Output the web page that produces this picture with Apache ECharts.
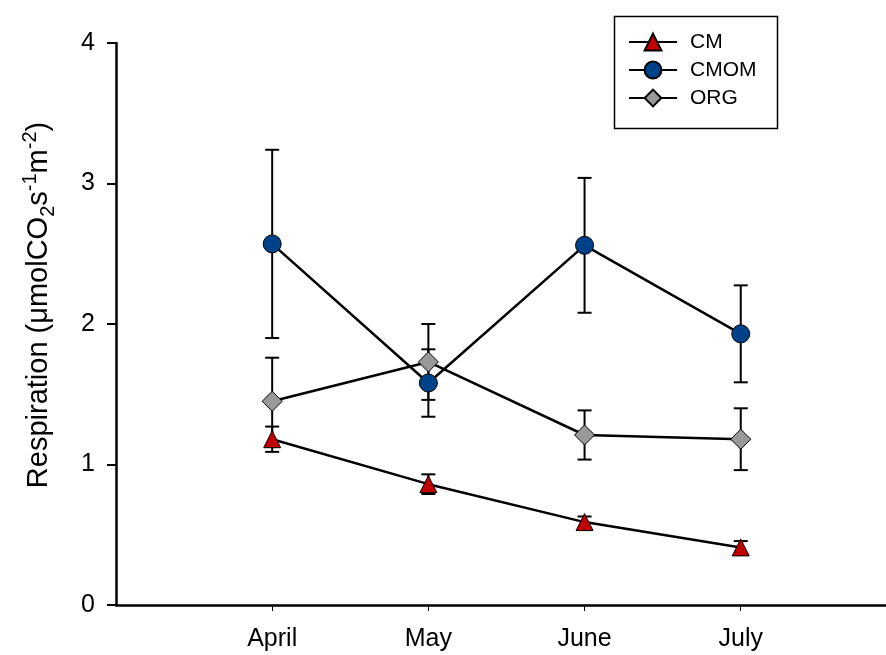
<!DOCTYPE html>
<html><head><meta charset="utf-8">
<script src="https://cdn.jsdelivr.net/npm/echarts@6/dist/echarts.min.js"></script>
<style>html,body{margin:0;padding:0;background:#fff}#c{width:886px;height:655px}</style>
</head><body><div id="c"></div>
<script>
const months = ['April', 'May', 'June', 'July'];
const yTicks = [0, 1, 2, 3, 4];
const cmMean = [1.18, 0.86, 0.59, 0.41];
const cmErr = [0.09, 0.07, 0.04, 0.045];
const cmomMean = [2.57, 1.58, 2.56, 1.93];
const cmomErr = [0.67, 0.24, 0.48, 0.345];
const orgMean = [1.45, 1.73, 1.21, 1.18];
const orgErr = [0.31, 0.27, 0.175, 0.22];

const FONT = '"Liberation Sans", Arial, sans-serif';
const chart = echarts.init(document.getElementById('c'), null, {renderer: 'canvas'});

function pts(mean) { return mean.map((v, i) => [i + 1, v]); }
function errData(mean, err) { return mean.map((v, i) => [i + 1, v - err[i], v + err[i]]); }
function errSeries(name, mean, err) {
  return {
    type: 'custom', name: name + '_err', z: 1, silent: true,
    data: errData(mean, err),
    renderItem: function (params, api) {
      const x = api.value(0);
      const lo = api.coord([x, api.value(1)]);
      const hi = api.coord([x, api.value(2)]);
      const w = 7;
      const st = {stroke: '#000', lineWidth: 2};
      return {type: 'group', children: [
        {type: 'line', shape: {x1: lo[0], y1: lo[1], x2: hi[0], y2: hi[1]}, style: st},
        {type: 'line', shape: {x1: lo[0] - w, y1: lo[1], x2: lo[0] + w, y2: lo[1]}, style: st},
        {type: 'line', shape: {x1: hi[0] - w, y1: hi[1], x2: hi[0] + w, y2: hi[1]}, style: st}
      ]};
    }
  };
}
function lineSeries(name, mean, symbol, size, color) {
  return {
    type: 'line', name: name, z: 3, data: pts(mean), symbol: symbol, symbolSize: size,
    showAllSymbol: true,
    lineStyle: {color: '#000', width: 2.5},
    itemStyle: {color: color, borderColor: '#000', borderWidth: 1},
    emphasis: {disabled: true}
  };
}

const option = {
  animation: false,
  backgroundColor: '#fff',
  grid: {left: 116, right: 0, top: 43, bottom: 50, containLabel: false},
  xAxis: {
    type: 'value', min: 0, max: 4.93,
    splitLine: {show: false},
    axisLine: {show: true, lineStyle: {color: '#000', width: 2.5}},
    axisTick: {show: true, customValues: [1, 2, 3, 4], length: 6, lineStyle: {color: '#000', width: 1}},
    axisLabel: {customValues: [1, 2, 3, 4], formatter: v => months[Math.round(v) - 1] || '',
      color: '#000', fontFamily: FONT, fontSize: 25, margin: 22}
  },
  yAxis: {
    type: 'value', min: 0, max: 4, interval: 1,
    splitLine: {show: false},
    axisLine: {show: true, lineStyle: {color: '#000', width: 2.5}},
    axisTick: {show: true, length: 9, lineStyle: {color: '#000', width: 2}},
    axisLabel: {color: '#000', fontFamily: FONT, fontSize: 25, margin: 21,
      formatter: v => yTicks.indexOf(v) >= 0 ? String(v) : ''}
  },
  legend: {
    left: 628, top: 31.5, orient: 'vertical', itemWidth: 48, itemHeight: 21, itemGap: 7,
    padding: 0,
    data: ['CM', 'CMOM', 'ORG'],
    textStyle: {color: '#000', fontFamily: FONT, fontSize: 21, padding: [0, 0, 0, 8]}
  },
  graphic: [
    {type: 'rect', left: 612, top: 14, shape: {width: 163, height: 112}, style: {fill: 'none', stroke: '#000', lineWidth: 1.5}, z: 0},
    {type: 'text', x: 39, y: 305, rotation: Math.PI / 2,
      style: {
        text: '{a|Respiration (μmolCO}{sub|2}{a|s}{sup|-1}{a|m}{sup|-2}{a|)}',
        align: 'center', verticalAlign: 'middle', fill: '#000',
        rich: {
          a: {fontFamily: FONT, fontSize: 29, lineHeight: 38, fill: '#000', verticalAlign: 'middle'},
          sub: {fontFamily: FONT, fontSize: 20, lineHeight: 20, fill: '#000', verticalAlign: 'bottom'},
          sup: {fontFamily: FONT, fontSize: 20, lineHeight: 20, fill: '#000', verticalAlign: 'top'}
        }
      }
    }
  ],
  series: [
    errSeries('CM', cmMean, cmErr),
    errSeries('CMOM', cmomMean, cmomErr),
    errSeries('ORG', orgMean, orgErr),
    lineSeries('CM', cmMean, 'triangle', 17, '#c00000'),
    lineSeries('CMOM', cmomMean, 'circle', 18, '#00428a'),
    lineSeries('ORG', orgMean, 'diamond', 20, '#999999')
  ]
};
chart.setOption(option);
</script></body></html>
